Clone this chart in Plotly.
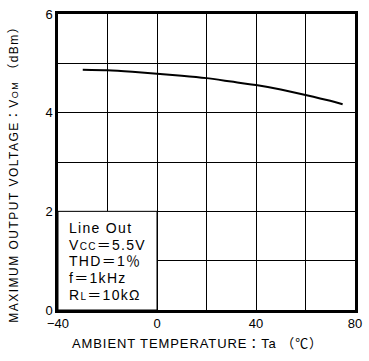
import plotly.graph_objects as go

# ---- data ----
temperature_c = [-30, -20, -10, 0, 10, 20, 30, 40, 50, 60, 70, 75]
vom_dbm = [4.87, 4.86, 4.83, 4.79, 4.75, 4.70, 4.63, 4.56, 4.47, 4.36, 4.24, 4.17]

x_tickvals = [-40, -20, 0, 20, 40, 60, 80]
x_ticktext = ["\u221240", "", "0", "", "40", "", "80"]
y_tickvals = [0, 1, 2, 3, 4, 5, 6]
y_ticktext = ["0", "", "2", "", "4", "", "6"]

cond_lines = [
    "Line Out",
    "V<span style='font-size:10px'>CC</span>\uff1d5.5V",
    "THD\uff1d1\uff05",
    "f\uff1d1kHz",
    "R<span style='font-size:10px'>L</span>\uff1d10k\u03a9",
]

FONT = "Liberation Sans, Arial, Noto Sans CJK JP, sans-serif"

W, H = 369, 361
L, R, T, B = 58, 362, 8, 310


def xp(px):
    return (px - L) / (R - L)


def yp(py):
    return (B - py) / (B - T)


fig = go.Figure()
fig.add_trace(go.Scatter(
    x=temperature_c, y=vom_dbm, mode="lines",
    line=dict(color="black", width=2, shape="spline", smoothing=0.6),
    hoverinfo="skip", showlegend=False,
))

# condition box (white, hides grid lines inside)
fig.add_shape(type="rect", xref="x", yref="y", x0=-40, x1=0, y0=0, y1=2,
              fillcolor="white", line=dict(color="black", width=1), layer="between")

line_centers = [226.7, 243.6, 260.5, 277.4, 294.3]
for txt, cy in zip(cond_lines, line_centers):
    fig.add_annotation(
        text=f"<span style='letter-spacing:1.3px'>{txt}</span>",
        xref="paper", yref="paper", x=xp(67), y=yp(cy),
        xanchor="left", yanchor="middle", showarrow=False,
        font=dict(family=FONT, size=14, color="black"),
    )

# axis titles
fig.add_annotation(
    text="<span style='letter-spacing:0.9px'>AMBIENT TEMPERATURE\uff1aTa \uff08\u2103\uff09</span>",
    xref="paper", yref="paper", x=xp(201), y=yp(344),
    xanchor="center", yanchor="middle", showarrow=False,
    font=dict(family=FONT, size=13, color="black"),
)
fig.add_annotation(
    text="<span style='letter-spacing:1.5px'>MAXIMUM OUTPUT VOLTAGE\uff1aV<span style='font-size:9px'>OM</span> \uff08dBm\uff09</span>",
    xref="paper", yref="paper", x=xp(13), y=yp(169),
    xanchor="center", yanchor="middle", showarrow=False, textangle=-90,
    font=dict(family=FONT, size=12, color="black"),
)

axis_common = dict(
    showgrid=True, gridcolor="black", gridwidth=1,
    showline=True, linecolor="black", linewidth=2.5, mirror=True,
    ticks="", zeroline=False,
    tickfont=dict(family=FONT, size=13, color="black"),
    fixedrange=True,
)
fig.update_xaxes(range=[-40, 80], tickmode="array", tickvals=x_tickvals,
                 ticktext=x_ticktext, **axis_common)
fig.update_yaxes(range=[0, 6], tickmode="array", tickvals=y_tickvals,
                 ticktext=y_ticktext, **axis_common)

fig.update_layout(
    width=W, height=H,
    margin=dict(l=L, r=W - R, t=T, b=H - B),
    paper_bgcolor="white", plot_bgcolor="white",
    showlegend=False,
)

fig.write_html("out.html")
